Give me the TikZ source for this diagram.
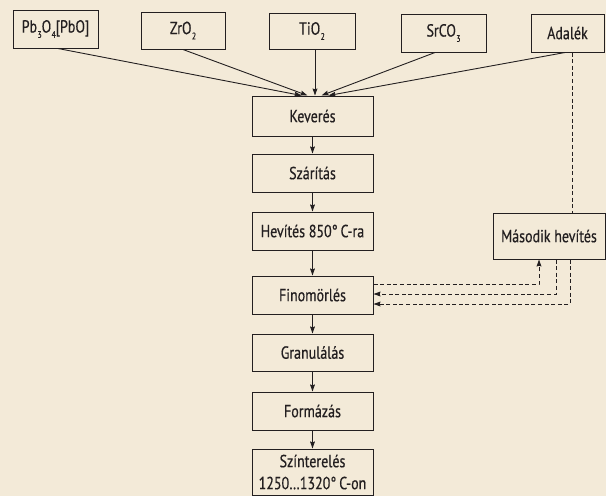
\documentclass[tikz,border=0pt]{standalone}
\usepackage{fontspec}
\setmainfont{PT Sans}[FakeStretch=0.8,FakeBold=0.5]
\usetikzlibrary{arrows.meta,calc}
\definecolor{bg}{RGB}{243,234,216}
\definecolor{ink}{RGB}{35,31,32}
\newcommand{\sbs}[1]{\kern0.4pt\raisebox{-0.6ex}{\fontsize{9.5}{9.5}\selectfont #1}}
\begin{document}
\begin{tikzpicture}[x=1pt,y=-1pt,
  box/.style={draw=ink,line width=1pt,fill=bg,inner sep=0pt,align=center,
    font=\fontsize{17.5}{22}\selectfont,text=ink},
  mainbox/.style={box,minimum width=121pt,minimum height=38pt},
  arr/.style={draw=ink,line width=0.9pt,-{Stealth[length=7pt,width=4.8pt,inset=0.8pt]}},
  dsh/.style={draw=ink,line width=0.9pt,dash pattern=on 4pt off 2.6pt}]
\fill[bg] (0,0) rectangle (606,496);
\useasboundingbox (0,0) rectangle (606,496);
% top row
\node[box,minimum width=85pt,minimum height=38pt] (pb) at (55.5,29) {Pb\sbs{3}O\sbs{4}[PbO]};
\node[box,minimum width=84pt,minimum height=37pt] (zr) at (183,30.5) {ZrO\sbs{2}};
\node[box,minimum width=86pt,minimum height=36pt] (ti) at (312,31) {TiO\sbs{2}};
\node[box,minimum width=85pt,minimum height=38pt] (sr) at (443.5,33) {SrCO\sbs{3}};
\node[box,minimum width=73pt,minimum height=38pt] (ad) at (567.5,33) {Adalék};
% main column
\node[mainbox,minimum height=40pt] (kev) at (312.5,116) {Keverés};
\node[mainbox] (sza) at (312.5,173) {Szárítás};
\node[mainbox] (hev) at (312.5,231) {Hevítés 850°\,C-ra};
\node[mainbox] (fin) at (312.5,295) {Finomörlés};
\node[mainbox,minimum height=37pt] (gra) at (312.5,352.5) {Granulálás};
\node[mainbox] (for) at (312.5,411) {Formázás};
\node[mainbox,minimum height=46pt] (szi) at (312.5,472) {Színterelés\\1250…1320°\,C-on};
% side box
\node[box,minimum width=112pt,minimum height=46pt] (mas) at (549,236) {Második hevítés};
% inputs to Keverés
\draw[arr] ($(pb.south)+(2.5,0)$) -- ($(kev.north)+(-11,0)$);
\draw[arr] (zr.south) -- ($(kev.north)+(-5,0)$);
\draw[arr] ($(ti.south)+(3,0)$) -- ($(kev.north)+(2.5,0)$);
\draw[arr] ($(sr.south)+(-8.5,0)$) -- ($(kev.north)+(9,0)$);
\draw[arr] ($(ad.south)+(-2.5,0)$) -- ($(kev.north)+(16,0)$);
% main chain
\draw[arr] (kev) -- (sza);
\draw[arr] (sza) -- (hev);
\draw[arr] (hev) -- (fin);
\draw[arr] (fin) -- (gra);
\draw[arr] (gra) -- (for);
\draw[arr] (for) -- (szi);
% dashed side paths
\coordinate (xa) at (572,0);
\coordinate (x1) at (539,0);
\coordinate (x2) at (556,0);
\coordinate (x3) at (570,0);
\draw[dsh] (xa |- ad.south) -- (xa |- mas.north);
\draw[dsh,-{Stealth[length=7pt,width=4.8pt,inset=0.8pt]}] ($(fin.east)+(0,-11)$) -| (x1 |- mas.south);
\draw[dsh,-{Stealth[length=7pt,width=4.8pt,inset=0.8pt]}] (x2 |- mas.south) |- ($(fin.east)+(0,-1)$);
\draw[dsh,-{Stealth[length=7pt,width=4.8pt,inset=0.8pt]}] (x3 |- mas.south) |- ($(fin.east)+(0,9)$);
\end{tikzpicture}
\end{document}
